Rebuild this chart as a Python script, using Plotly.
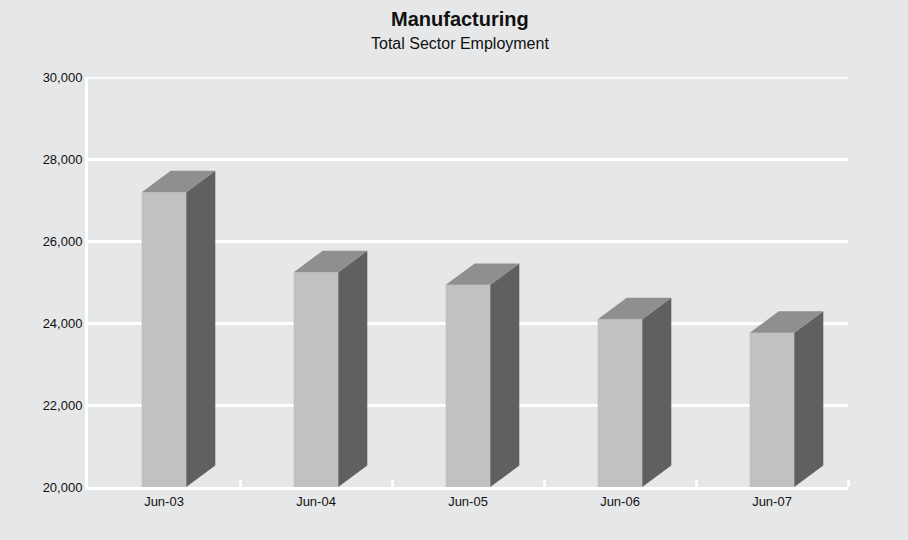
import plotly.graph_objects as go

# ---- data ----
categories = ["Jun-03", "Jun-04", "Jun-05", "Jun-06", "Jun-07"]
employment = [27190, 25240, 24930, 24090, 23760]
y_ticks = [20000, 22000, 24000, 26000, 28000, 30000]
y_tick_labels = ["20,000", "22,000", "24,000", "26,000", "28,000", "30,000"]

# ---- style / geometry ----
BG = "#e6e7e8"
FRONT = "#c1c1c1"
SIDE = "#606060"
TOP = "#8f8f8f"
FONT = "Liberation Sans, Arial, Helvetica, sans-serif"
Y_MIN, Y_MAX = 20000, 30000
BAR_W = 0.293      # in category units
DEPTH_X = 0.191    # 3D depth, category units
DEPTH_Y = 524      # 3D depth, value units

xs = list(range(len(categories)))

fig = go.Figure()

# front faces
fig.add_trace(go.Bar(
    x=xs, y=employment, width=BAR_W,
    marker=dict(color=FRONT, line=dict(width=0)),
    hoverinfo="skip", showlegend=False,
))

# side faces and top faces built from the data values
side_x, side_y, top_x, top_y = [], [], [], []
for i, v in zip(xs, employment):
    r = i + BAR_W / 2
    l = i - BAR_W / 2
    side_x += [r, r + DEPTH_X, r + DEPTH_X, r, r, None]
    side_y += [Y_MIN, Y_MIN + DEPTH_Y, v + DEPTH_Y, v, Y_MIN, None]
    top_x += [l, r, r + DEPTH_X, l + DEPTH_X, l, None]
    top_y += [v, v, v + DEPTH_Y, v + DEPTH_Y, v, None]

fig.add_trace(go.Scatter(
    x=side_x, y=side_y, mode="lines", fill="toself", fillcolor=SIDE,
    line=dict(width=0, color=SIDE), hoverinfo="skip", showlegend=False,
))
fig.add_trace(go.Scatter(
    x=top_x, y=top_y, mode="lines", fill="toself", fillcolor=TOP,
    line=dict(width=0, color=TOP), hoverinfo="skip", showlegend=False,
))

fig.update_layout(
    width=908, height=540,
    margin=dict(l=88, r=60, t=77, b=53),
    paper_bgcolor=BG, plot_bgcolor=BG,
    font=dict(family=FONT, size=13, color="#111111"),
    showlegend=False,
    xaxis=dict(
        range=[-0.5, len(categories) - 0.5],
        tickmode="array", tickvals=xs, ticktext=categories,
        ticks="", showgrid=False, zeroline=False,
        showline=True, linecolor="white", linewidth=3,
        tickfont=dict(size=13),
        minor=dict(
            tickmode="array",
            tickvals=[i + 0.5 for i in xs],
            ticks="inside", ticklen=7, tickwidth=2.5, tickcolor="white",
            showgrid=False,
        ),
        fixedrange=True,
    ),
    yaxis=dict(
        range=[Y_MIN, Y_MAX],
        tickmode="array", tickvals=y_ticks, ticktext=y_tick_labels,
        ticks="", showgrid=True, gridcolor="white", gridwidth=3,
        zeroline=False, showline=True, linecolor="white", linewidth=3,
        tickfont=dict(size=13),
        fixedrange=True,
    ),
    shapes=[
        # top gridline at the upper end of the value axis
        dict(type="line", xref="paper", yref="y", x0=0, x1=1,
             y0=Y_MAX, y1=Y_MAX, line=dict(color="white", width=3),
             layer="below"),
    ],
    annotations=[
        dict(text="<b>Manufacturing</b>", x=0.4895, y=1.1415,
             xref="paper", yref="paper", xanchor="center", yanchor="middle",
             showarrow=False, font=dict(size=20, family=FONT, color="#111111")),
        dict(text="Total Sector Employment", x=0.4895, y=1.0817,
             xref="paper", yref="paper", xanchor="center", yanchor="middle",
             showarrow=False, font=dict(size=16, family=FONT, color="#111111")),
    ],
)

fig.write_html("out.html")
